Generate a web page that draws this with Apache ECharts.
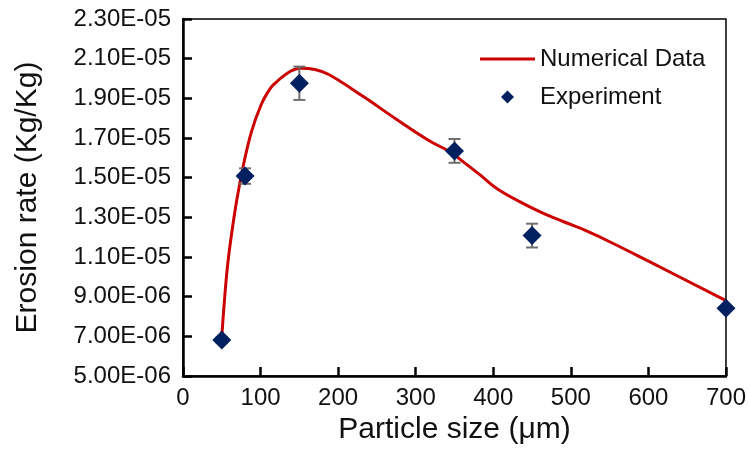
<!DOCTYPE html>
<html>
<head>
<meta charset="utf-8">
<script src="https://cdn.jsdelivr.net/npm/echarts@6/dist/echarts.min.js"></script>
<style>
html,body{margin:0;padding:0;background:#fff;}
#chart{width:749px;height:456px;}
</style>
</head>
<body>
<div id="chart"></div>
<script>
// Numerical curve (particle size in µm, erosion rate in kg/kg)
const xCurve = [50, 53, 57, 61, 69, 78, 88.5, 101, 110, 117, 138, 152, 170, 188, 232, 275, 318, 344, 361, 383, 404, 434, 469, 512, 550, 602, 700];
const yCurve = [7.0e-6, 8.6e-6, 1.04e-5, 1.17e-5, 1.38e-5, 1.565e-5, 1.735e-5, 1.87e-5, 1.935e-5, 1.97e-5, 2.035e-5, 2.052e-5, 2.045e-5, 2.02e-5, 1.91e-5, 1.795e-5, 1.685e-5, 1.631e-5, 1.581e-5, 1.514e-5, 1.447e-5, 1.379e-5, 1.312e-5, 1.245e-5, 1.177e-5, 1.075e-5, 8.8e-6];

// Experiment points with error
const xExp = [50, 80, 150, 350, 450, 700];
const yExp = [6.82e-6, 1.508e-5, 1.976e-5, 1.635e-5, 1.208e-5, 8.42e-6];
const errExp = [0.15e-6, 0.39e-6, 0.84e-6, 0.6e-6, 0.6e-6, 0.1e-6];

// Axis ticks
const xTickLabels = ['0', '100', '200', '300', '400', '500', '600', '700'];
const yTickLabels = ['5.00E-06', '7.00E-06', '9.00E-06', '1.10E-05', '1.30E-05', '1.50E-05', '1.70E-05', '1.90E-05', '2.10E-05', '2.30E-05'];
const yMin = 5e-6, yMax = 2.3e-5, yStep = 2e-6;

const FONT = '"Liberation Sans", Arial, sans-serif';
const TXT = '#111';

const curveData = xCurve.map((x, i) => [x, yCurve[i]]);
const expData = xExp.map((x, i) => [x, yExp[i]]);
const errData = xExp.map((x, i) => [x, yExp[i] - errExp[i], yExp[i] + errExp[i]]);

const chart = echarts.init(document.getElementById('chart'), null, {renderer: 'canvas'});
chart.setOption({
  backgroundColor: '#fff',
  animation: false,
  grid: {left: 183, right: 23, top: 19, bottom: 80, show: true, borderColor: '#000', borderWidth: 1.5, backgroundColor: 'transparent'},
  legend: {
    orient: 'vertical', left: 475, top: 42,
    itemWidth: 55, itemHeight: 13, itemGap: 14,
    symbolKeepAspect: true,
    textStyle: {fontFamily: FONT, fontSize: 24, color: TXT, lineHeight: 24},
    data: [
      {name: 'Numerical Data', icon: 'path://M0,0H55V3H0Z'},
      {name: 'Experiment', icon: 'path://M5,0L10,5L5,10L0,5Z'}
    ]
  },
  xAxis: {
    type: 'value', min: 0, max: 700, interval: 100,
    name: 'Particle size (\u03bcm)', nameLocation: 'middle', nameGap: 37,
    nameTextStyle: {fontFamily: FONT, fontSize: 30, color: TXT},
    axisLine: {show: true, lineStyle: {color: '#000', width: 2.5}},
    axisTick: {show: true, inside: true, length: 9, lineStyle: {color: '#000', width: 2.5}},
    axisLabel: {fontFamily: FONT, fontSize: 24, color: TXT, margin: 10,
      formatter: v => xTickLabels[Math.round(v / 100)]},
    splitLine: {show: false}
  },
  yAxis: {
    type: 'value', min: yMin, max: yMax, interval: yStep,
    name: 'Erosion rate (Kg/Kg)', nameLocation: 'middle', nameGap: 140,
    nameTextStyle: {fontFamily: FONT, fontSize: 30, color: TXT},
    axisLine: {show: true, lineStyle: {color: '#000', width: 2.5}},
    axisTick: {show: true, inside: true, length: 9, lineStyle: {color: '#000', width: 2.5}},
    axisLabel: {fontFamily: FONT, fontSize: 24, color: TXT, margin: 12,
      formatter: v => yTickLabels[Math.round((v - yMin) / yStep)]},
    splitLine: {show: false}
  },
  series: [
    {
      name: 'Numerical Data', type: 'line', data: curveData,
      symbol: 'none', smooth: 0.4,
      lineStyle: {color: '#cc0000', width: 3},
      itemStyle: {color: '#cc0000'},
      z: 2
    },
    {
      name: 'ErrorBars', type: 'custom', data: errData, z: 3,
      renderItem: function (params, api) {
        const x = api.value(0);
        const lo = api.coord([x, api.value(1)]);
        const hi = api.coord([x, api.value(2)]);
        const hw = 6;
        const style = {stroke: '#6e6e6e', lineWidth: 2};
        return {
          type: 'group',
          children: [
            {type: 'line', shape: {x1: lo[0], y1: lo[1], x2: hi[0], y2: hi[1]}, style: style},
            {type: 'line', shape: {x1: lo[0] - hw, y1: lo[1], x2: lo[0] + hw, y2: lo[1]}, style: style},
            {type: 'line', shape: {x1: hi[0] - hw, y1: hi[1], x2: hi[0] + hw, y2: hi[1]}, style: style}
          ]
        };
      },
      encode: {x: 0, y: [1, 2]}
    },
    {
      name: 'Experiment', type: 'scatter', data: expData,
      symbol: 'diamond', symbolSize: [19, 19],
      itemStyle: {color: '#002060', opacity: 1},
      z: 4
    }
  ]
});
</script>
</body>
</html>
